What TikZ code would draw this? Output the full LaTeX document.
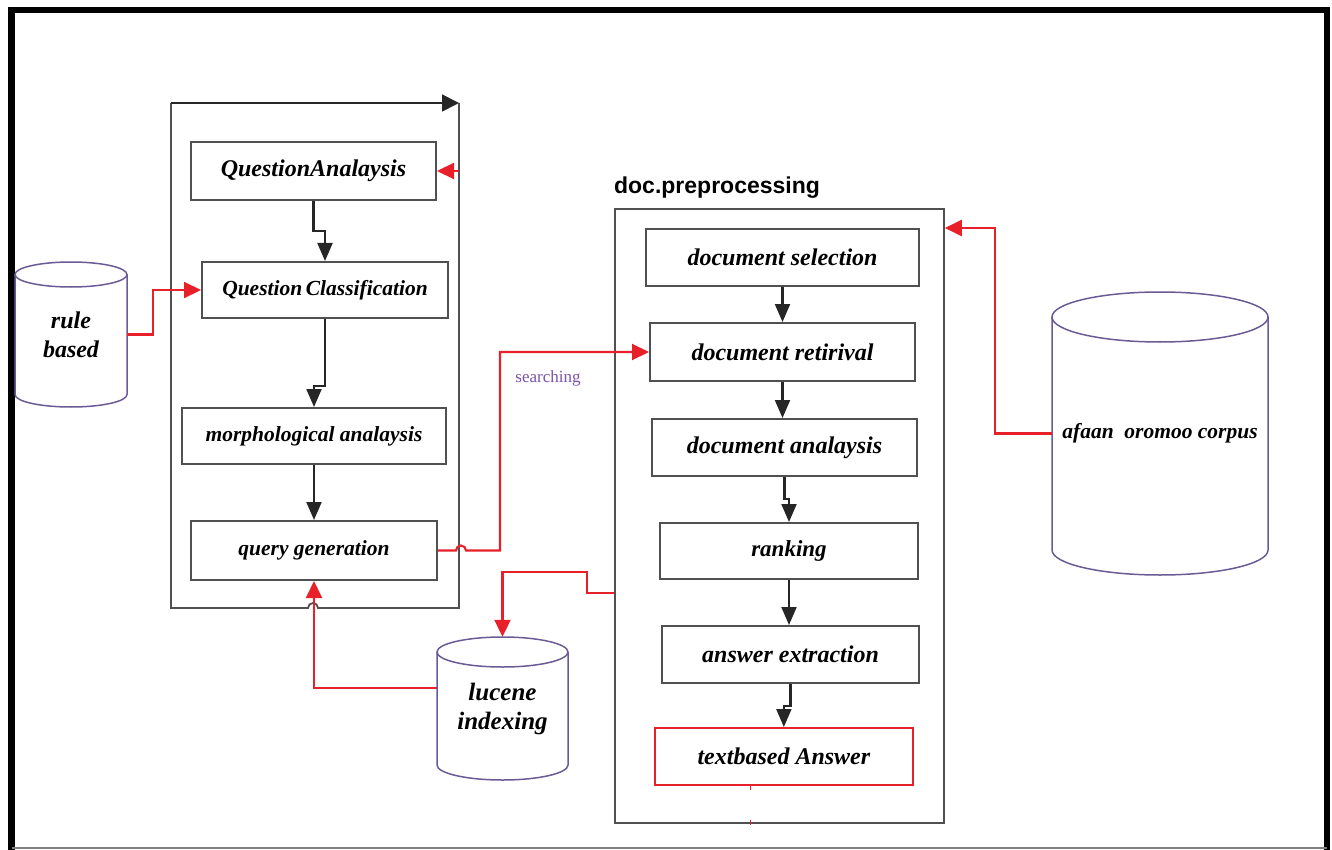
\documentclass[tikz,border=0pt]{standalone}
\usepackage{fontspec}
\setmainfont{Liberation Serif}
\setsansfont{Liberation Sans}
\usetikzlibrary{arrows.meta,calc}

\definecolor{boxgray}{HTML}{505050}
\definecolor{flowblack}{HTML}{262626}
\definecolor{linkred}{HTML}{E8202A}
\definecolor{dbpurple}{HTML}{6B5B95}
\definecolor{searchpurple}{HTML}{7B52AB}

% label font: size and baseline skip in pt
\newcommand\lblsize[2]{\fontsize{#1pt}{#2pt}\selectfont\bfseries\itshape}

% drum (database) outline: centre x, top y, bottom y, x radius, y radius
\newcommand\drumshape[5]{%
  \draw[drum] (#1-#4,#2+#5) -- (#1-#4,#3-#5)
     arc[start angle=180,end angle=360,x radius=#4pt,y radius=#5pt] -- (#1+#4,#2+#5);
  \draw[drum] (#1,#2+#5) ellipse[x radius=#4pt,y radius=#5pt];}

\tikzset{
  stage/.style={draw=boxgray, line width=2pt, inner sep=0pt, anchor=north west, align=center},
  panel/.style={draw=boxgray, line width=1.8pt, inner sep=0pt, anchor=north west},
  drum/.style={draw=dbpurple, line width=1.5pt},
  drumtext/.style={inner sep=0pt, align=center},
  flow/.style={draw=flowblack, line width=2.1pt, -{Triangle[length=18pt,width=15pt]}},
  redflow/.style={draw=linkred, line width=2.1pt, -{Triangle[length=17pt,width=16pt]}},
}

\begin{document}
\begin{tikzpicture}[x=1pt,y=-1pt]
\useasboundingbox (0,0) rectangle (1332,850);

% outer frame
\draw[line width=6.5pt] (11.5,852) -- (11.5,10) -- (1327,10) -- (1327,852);
\draw[gray, line width=1.4pt] (11.5,848) -- (1327,848);

% question processing panel
\coordinate (qtl) at (171,103);
\coordinate (qtr) at (459,103);
\draw[boxgray, line width=1.8pt] (qtr) -- (459,608) -- (318,608)
   arc[start angle=0,end angle=180,radius=5pt] -- (171,608) -- (qtl);
\draw[flowblack, line width=1.8pt, -{Triangle[length=17pt,width=17pt]}] (qtl) -- (qtr);

\node[stage, minimum width=245pt, minimum height=58pt, font=\lblsize{24}{29}] (qa) at (190,141) {QuestionAnalaysis};
\node[stage, minimum width=246pt, minimum height=56pt, font=\lblsize{21.5}{26}] (qc) at (201,261) {Question\,Classification};
\node[stage, minimum width=264pt, minimum height=56pt, font=\lblsize{21.5}{26}] (morph) at (181,407) {morphological analaysis};
\node[stage, minimum width=246pt, minimum height=59pt, font=\lblsize{21.5}{26}] (qg) at (190,520) {query generation};

\draw[flow] (qa.south) -- ++(0,30) -| (qc.north);
\draw[flow] (qc.south) -- ++(0,67) -| (morph.north);
\draw[flow] (morph.south) -- (qg.north);
\draw[redflow] (qtr |- qa.east) -- (qa.east);

% document processing panel
\node[font=\sffamily\bfseries\fontsize{23pt}{27pt}\selectfont] (dpt) at (717,188) {doc.preprocessing};
\node[panel, minimum width=329pt, minimum height=614pt] (docc) at (614,208) {};

\node[stage, minimum width=273pt, minimum height=57pt, font=\lblsize{24}{29}] (sel) at (645,228) {document selection};
\node[stage, minimum width=265pt, minimum height=58pt, font=\lblsize{24}{29}] (ret) at (649,322) {document retirival};
\node[stage, minimum width=265pt, minimum height=57pt, font=\lblsize{24}{29}] (anal) at (651,418) {document analaysis};
\node[stage, minimum width=258pt, minimum height=56pt, font=\lblsize{23}{28}] (rank) at (659,522) {ranking};
\node[stage, minimum width=257pt, minimum height=57pt, font=\lblsize{24}{29}] (extr) at (661,625) {answer extraction};
\node[stage, draw=linkred, line width=1.7pt, minimum width=258pt, minimum height=57pt, font=\lblsize{24}{29}] (tb) at (654,727) {textbased Answer};

\draw[flow] (sel.south) -- (ret.north);
\draw[flow] (ret.south) -- (ret.south |- anal.north);
\draw[flow] (anal.south) -- ++(0,22) -| (rank.north);
\draw[flow] (rank.south) -- (rank.south |- extr.north);
\draw[flow] (extr.south) -- ++(0,22) -| (tb.north);

\draw[linkred, line width=1.2pt] ($(tb.south)+(-33,0)$) -- ++(0,4);
\draw[linkred, line width=1.2pt] ($(tb.south)+(-33,34)$) -- ++(0,5);

% data stores
\drumshape{71}{262}{407}{56}{12.5}
\node[drumtext, minimum width=112pt, minimum height=145pt, font=\lblsize{24}{29}] (rule) at (71,334.5) {rule\\based};

\drumshape{502.5}{637}{780}{65.5}{15}
\node[drumtext, minimum width=131pt, minimum height=143pt, font=\lblsize{25}{29}] (lucene) at (502.5,708.5) {lucene\\indexing};

\drumshape{1160}{292}{575}{108}{25}
\node[drumtext, minimum width=216pt, minimum height=283pt, font=\lblsize{21.5}{26}] (corpus) at (1160,433.5) {afaan~ oromoo corpus};

% red links
\draw[redflow] (rule.east) -- ++(26,0) |- (qc.west);
\draw[redflow] (corpus.west) -- ++(-57,0) |- ($(docc.north east)+(0,20)$);
\draw[redflow] (qg.east) -- ++(18,0) arc[start angle=180,end angle=0,radius=5pt]
   -- ++(34,0) |- (ret.west);
\coordinate (lq) at (lucene.west |- 0,688);
\draw[redflow] (lq) -| (qg.south);
\coordinate (dl) at (docc.west |- 0,593);
\draw[redflow] (dl) -- ++(-27,0) -- ++(0,-21) -| (lucene.north);

\node[font=\fontsize{17pt}{20pt}\selectfont, text=searchpurple] (srch) at (548,378) {searching};
\end{tikzpicture}
\end{document}
